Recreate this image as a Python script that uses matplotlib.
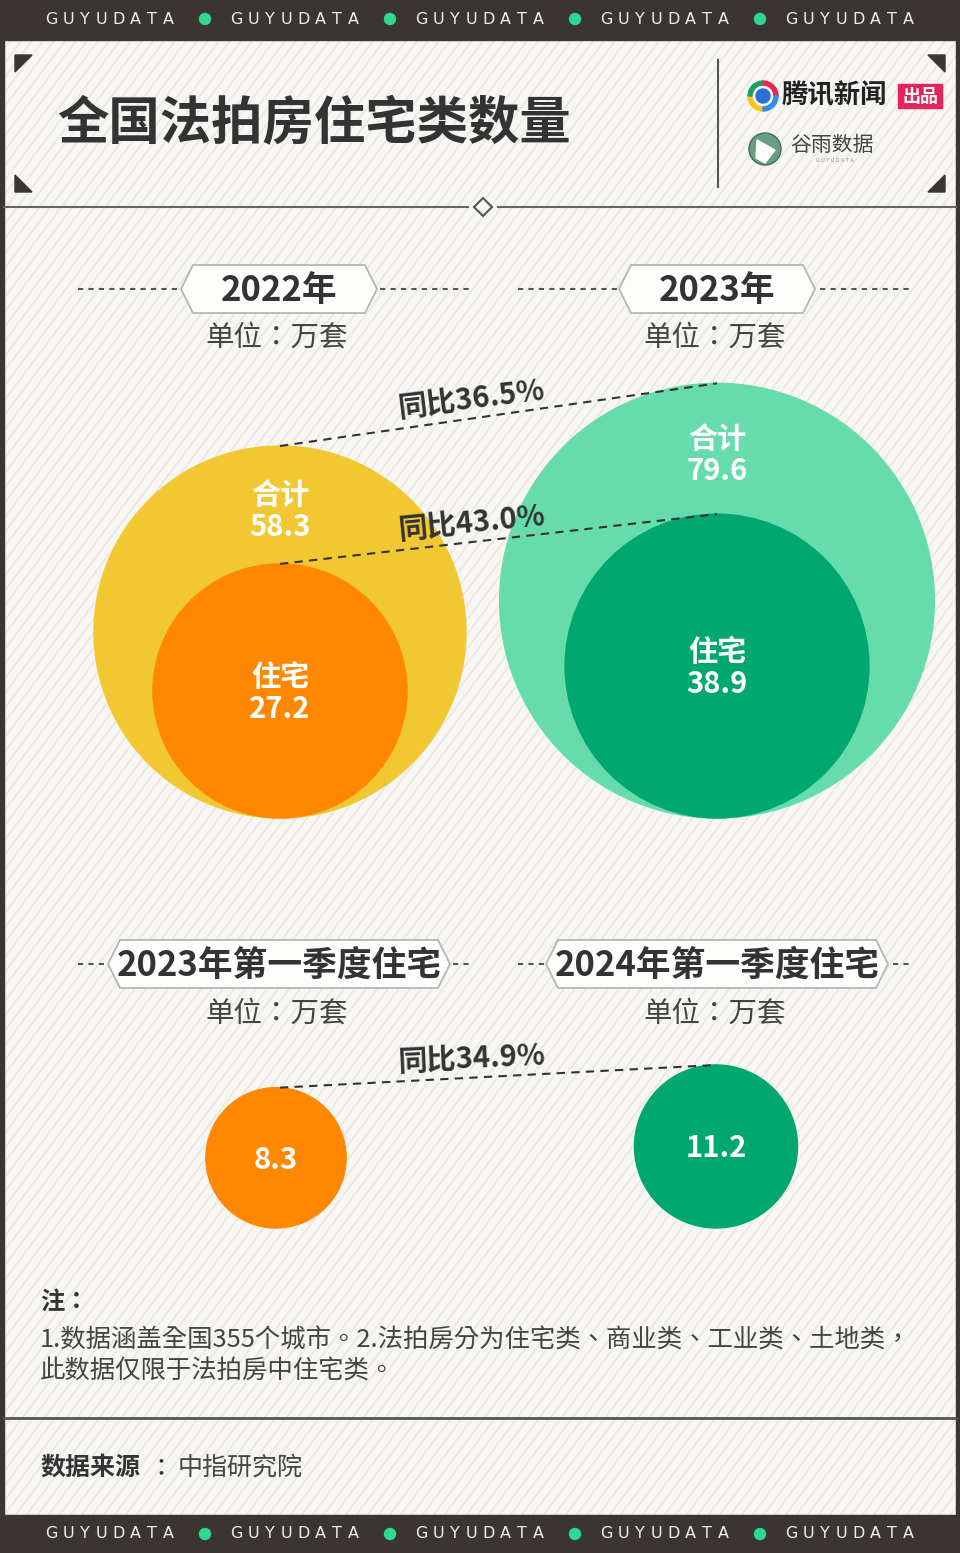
import matplotlib
matplotlib.use("Agg")
import matplotlib.pyplot as plt
import numpy as np
from matplotlib.patches import Circle, Polygon, Rectangle, Wedge
from matplotlib.collections import LineCollection

plt.rcParams['font.family'] = ['Noto Sans CJK SC', 'DejaVu Sans']
TC = ['Noto Sans CJK TC', 'DejaVu Sans']  # centred full-width punctuation

# ---- data ----
title = '全国法拍房住宅类数量'
year_labels = ['2022年', '2023年']
total_vals = [58.3, 79.6]
resi_vals = [27.2, 38.9]
yoy_total = 36.5
yoy_resi = 43.0
q1_labels = ['2023年第一季度住宅', '2024年第一季度住宅']
q1_vals = [8.3, 11.2]
q1_yoy = 34.9
unit_label = '单位：万套'
note_lines = ['1.数据涵盖全国355个城市。2.法拍房分为住宅类、商业类、工业类、土地类，',
              '此数据仅限于法拍房中住宅类。']
source_name = '中指研究院'

# ---- colours ----
DARK = '#3a3533'
BG = '#f7f6f2'
HATCH = '#e8e7e2'
TXT = '#333333'
YELLOW = '#f2c832'
ORANGE = '#ff8800'
LGREEN = '#66dcac'
DGREEN = '#00a76e'
DOT_GREEN = '#2fd88f'

W, H = 960, 1553
fig = plt.figure(figsize=(W / 100, H / 100), dpi=100)
ax = fig.add_axes([0, 0, 1, 1])
ax.set_xlim(0, W)
ax.set_ylim(H, 0)
ax.axis('off')

# background + diagonal hatching
ax.add_patch(Rectangle((0, 0), W, H, color=BG, zorder=0))
segs = []
for c in np.arange(-H, W + H, 11):
    segs.append([(c, H), (c + H * 0.75, 0)])
ax.add_collection(LineCollection(segs, colors=HATCH, linewidths=1.1, zorder=0.5))

# frame
ax.add_patch(Rectangle((0, 0), W, 40, color=DARK, zorder=1))
ax.add_patch(Rectangle((0, 1515), W, 38, color=DARK, zorder=1))
ax.add_patch(Rectangle((0, 0), 4, H, color=DARK, zorder=1))
ax.add_patch(Rectangle((956, 0), 4, H, color=DARK, zorder=1))


def band_text(y):
    centers = [110, 295, 480, 665, 850]
    for cx in centers:
        word = 'GUYUDATA'
        step = 16.8
        x0 = cx - step * (len(word) - 1) / 2
        for i, ch in enumerate(word):
            ax.text(x0 + i * step, y, ch, color='#eeeeee', fontsize=11.5,
                    ha='center', va='center', family='DejaVu Sans', zorder=2)
    for dx in [205, 390, 575, 760]:
        ax.add_patch(Circle((dx, y), 5.5, color=DOT_GREEN, zorder=2))


band_text(19)
band_text(1534)

# title block
ax.text(57, 124, title, fontsize=37, fontweight='bold', color=TXT,
        ha='left', va='center', zorder=3)
ax.plot([718, 718], [60, 187], color='#555555', lw=1.5, zorder=2)
tri = 17
for (x, y, pts) in [(15, 55, [(0, 0), (tri, 0), (0, tri)]),
                    (945, 55, [(0, 0), (-tri, 0), (0, tri)]),
                    (15, 192, [(0, 0), (tri, 0), (0, -tri)]),
                    (945, 192, [(0, 0), (-tri, 0), (0, -tri)])]:
    ax.add_patch(Polygon([(x + a, y + b) for a, b in pts], color=DARK, zorder=2))
ax.plot([4, 468], [207, 207], color='#666666', lw=1.5, zorder=2)
ax.plot([498, 956], [207, 207], color='#666666', lw=1.5, zorder=2)
ax.add_patch(Polygon([(483, 198), (492, 207), (483, 216), (474, 207)],
                     facecolor=BG, edgecolor='#555555', lw=1.5, zorder=3))

# logos
ring = [('#f5c518', 90, 180), ('#1aa260', 180, 270), ('#e5245a', 270, 360), ('#2d8cf0', 0, 90)]
for col, a0, a1 in ring:
    ax.add_patch(Wedge((763, 96), 15, a0, a1, width=4, color=col, zorder=3))
ax.add_patch(Circle((763, 96), 7, color='#2d6fd8', zorder=3))
ax.text(782, 96, '腾讯新闻', fontsize=19, fontweight='bold', style='italic',
        color='#222222', ha='left', va='center', zorder=3)
ax.add_patch(Rectangle((898, 84), 44, 24, color='#e5245a', zorder=3))
ax.text(920, 96, '出品', fontsize=13, fontweight='bold', color='white',
        ha='center', va='center', zorder=4)
ax.add_patch(Circle((765, 149), 16, facecolor='#6a9e84', edgecolor='#3f6e58', lw=1, zorder=3))
ax.add_patch(Polygon([(757, 140), (775, 150), (765, 163), (756, 158)], color='white', zorder=4))
ax.text(790, 145, '谷雨数据', fontsize=15, color='#444444', ha='left',
        va='center', zorder=3)
ax.text(835, 161, 'G U Y U D A T A', fontsize=3.5, color='#888888', ha='center',
        va='center', family='DejaVu Sans', zorder=3)


def header(cx, cy, w, text, left, right):
    ax.plot([left, right], [cy, cy], color='#555555', lw=1.5,
            linestyle=(0, (2.5, 2.5)), zorder=2)
    h = 24
    x0, x1 = cx - w / 2, cx + w / 2
    pts = [(x0, cy), (x0 + 12, cy - h), (x1 - 12, cy - h), (x1, cy),
           (x1 - 12, cy + h), (x0 + 12, cy + h)]
    ax.add_patch(Polygon(pts, facecolor='#fdfdfb', edgecolor='#b5b5b5', lw=1.3, zorder=3))
    ax.text(cx, cy + 1, text, fontsize=25, fontweight='bold', color=TXT,
            ha='center', va='center', zorder=4)


col_x = [279, 717]
spans = [(78, 472), (518, 912)]
for i in range(2):
    header(col_x[i], 289, 196, year_labels[i], *spans[i])
    ax.text(col_x[i] - 2, 338, unit_label, fontsize=20.5, color='#444444',
            ha='center', va='center', family=TC, zorder=3)
    header(col_x[i], 964, 342, q1_labels[i], *spans[i])
    ax.text(col_x[i] - 2, 1014, unit_label, fontsize=20.5, color='#444444',
            ha='center', va='center', family=TC, zorder=3)

# bubble scale: radius proportional to sqrt(value)
k = 186 / np.sqrt(58.3)
base_top = 818
base_bot = 1228
circ_x = [280, 717]

tops_total, tops_resi = [], []
for i in range(2):
    rt = k * np.sqrt(total_vals[i])
    rr = k * np.sqrt(resi_vals[i])
    ct = base_top - rt
    cr = base_top - rr
    outer = YELLOW if i == 0 else LGREEN
    inner = ORANGE if i == 0 else DGREEN
    ax.add_patch(Circle((circ_x[i], ct), rt, color=outer, zorder=3))
    ax.add_patch(Circle((circ_x[i], cr), rr, color=inner, zorder=4))
    ty = (ct - rt + cr - rr) / 2 + 5
    ax.text(circ_x[i], ty - 15, '合计', fontsize=21, fontweight='bold', color='white',
            ha='center', va='center', zorder=6)
    ax.text(circ_x[i], ty + 17, f'{total_vals[i]:.1f}', fontsize=21, fontweight='bold',
            color='white', ha='center', va='center', zorder=6)
    ax.text(circ_x[i], cr - 14, '住宅', fontsize=21, fontweight='bold', color='white',
            ha='center', va='center', zorder=6)
    ax.text(circ_x[i], cr + 18, f'{resi_vals[i]:.1f}', fontsize=21, fontweight='bold',
            color='white', ha='center', va='center', zorder=6)
    tops_total.append(ct - rt)
    tops_resi.append(cr - rr)

tops_q1 = []
q1_cols = [ORANGE, DGREEN]
for i in range(2):
    r = k * np.sqrt(q1_vals[i])
    c = base_bot - r
    ax.add_patch(Circle((circ_x[i] - (4 if i == 0 else 1), c), r, color=q1_cols[i], zorder=3))
    ax.text(circ_x[i] - (4 if i == 0 else 1), c + 2, f'{q1_vals[i]:.1f}', fontsize=21,
            fontweight='bold', color='white', ha='center', va='center', zorder=6)
    tops_q1.append(c - r)


def yoy(x0, y0, x1, y1, pct):
    ax.plot([x0, x1], [y0, y1], color=TXT, lw=1.5, linestyle=(0, (4, 3)), zorder=7)
    ang = np.degrees(np.arctan2(y0 - y1, x1 - x0))
    tx = 472
    ly = y0 + (y1 - y0) * (tx - x0) / (x1 - x0)
    ax.text(tx, ly - 19, f'同比{pct:.1f}%', fontsize=21, fontweight='bold', color=TXT,
            ha='center', va='center', rotation=ang * 0.85, rotation_mode='anchor', zorder=8)


yoy(circ_x[0], tops_total[0], circ_x[1], tops_total[1], yoy_total)
yoy(circ_x[0], tops_resi[0], circ_x[1], tops_resi[1], yoy_resi)
yoy(circ_x[0], tops_q1[0], circ_x[1], tops_q1[1], q1_yoy)

# notes
ax.text(40, 1303, '注：', fontsize=17.5, fontweight='bold', color=TXT, ha='left',
        va='center', family=TC, zorder=3)
ax.text(40, 1341, note_lines[0], fontsize=18.3, color='#444444', ha='left',
        va='center', family=TC, zorder=3)
ax.text(40, 1372, note_lines[1], fontsize=18.3, color='#444444', ha='left',
        va='center', family=TC, zorder=3)
ax.plot([4, 956], [1418, 1418], color='#555555', lw=2, zorder=2)
ax.text(40, 1468, '数据来源', fontsize=18, fontweight='bold', color=TXT, ha='left', va='center', zorder=3)
ax.text(148, 1468, '：', fontsize=18, color=TXT, ha='left', va='center', family=TC, zorder=3)
ax.text(178, 1468, source_name, fontsize=18, color='#444444', ha='left', va='center', zorder=3)

fig.savefig('out.png', dpi=100)
